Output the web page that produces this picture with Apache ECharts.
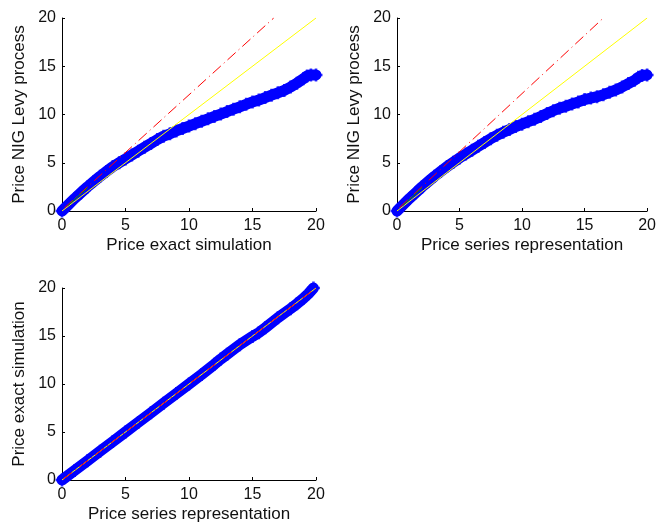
<!DOCTYPE html>
<html>
<head>
<meta charset="utf-8">
<script src="https://cdn.jsdelivr.net/npm/echarts@6/dist/echarts.min.js"></script>
<style>html,body{margin:0;padding:0;background:#fff}#c{width:659px;height:524px}</style>
</head>
<body>
<div id="c"></div>
<script>
// Top-left: NIG Levy process vs exact simulation (QQ)
const tlX = [0,0.5,1,1.5,2,2.5,3,3.5,4,4.5,5,5.5,6,6.5,7,7.5,8,8.5,9,9.5,10,10.5,11,11.5,12,12.5,13,13.5,14,14.5,15,15.5,16,16.5,17,17.5,18,18.5,19,19.3,19.6,20];
const tlY = [0,0.65,1.3,1.9,2.5,3.05,3.6,4.1,4.6,5.0,5.4,5.8,6.2,6.6,7.0,7.4,7.75,8.0,8.3,8.55,8.8,9.05,9.3,9.55,9.8,10.05,10.3,10.55,10.8,11.05,11.3,11.5,11.75,12.0,12.25,12.5,12.85,13.25,13.7,14.0,14.1,14.1];
// Top-right: NIG Levy process vs series representation
const trX = [0,0.5,1,1.5,2,2.5,3,3.5,4,4.5,5,5.5,6,6.5,7,7.5,8,8.5,9,9.5,10,10.5,11,11.5,12,12.5,13,13.5,14,14.5,15,15.5,16,16.5,17,17.5,18,18.5,19,19.3,19.6,20];
const trY = [0,0.65,1.3,1.9,2.5,3.05,3.6,4.1,4.6,5.05,5.5,5.9,6.3,6.7,7.1,7.5,7.85,8.15,8.45,8.75,9.0,9.25,9.5,9.8,10.1,10.4,10.65,10.85,11.1,11.3,11.55,11.7,11.85,12.05,12.3,12.55,12.85,13.2,13.55,13.85,14.05,14.1];
// Bottom: exact simulation vs series representation
const bX = [0,1,2,3,4,5,6,7,8,9,10,11,12,12.5,13,14,15,15.5,16,17,18,18.5,19,19.4,19.8];
const bY = [0,1,2,3,4,5,6,7,8,9,10,11,12.05,12.6,13.1,14.1,14.95,15.35,15.85,16.9,17.85,18.35,18.9,19.4,20];
// Reference lines
const identX = [0,20], identY = [0,20];
const tlRedX = [0.2,16.67], tlRedY = [0.34,20];
const trRedX = [0.2,16.5], trRedY = [0.36,20];
const bRedX = [0.1,20], bRedY = [0.1,20];
const greenX = [0.5,2.0], greenY = [0.6,2.4];
const ticks = [0,5,10,15,20];

const plus = 'path://M4,0H6V4H10V6H6V10H4V6H0V4H4Z';
const pair = (xs, ys) => xs.map((x, i) => [x, ys[i]]);
const font = 'Liberation Sans';

function axes(idx, name, isX) {
  return {
    type: 'value', gridIndex: idx, min: 0, max: 20, interval: 5,
    name: name, nameLocation: 'middle', nameGap: isX ? 26 : 34,
    nameTextStyle: { fontFamily: font, fontSize: 17, color: '#111' },
    axisLine: { show: true, onZero: false, lineStyle: { color: '#000', width: 1 } },
    axisTick: { show: true, inside: true, length: 3, lineStyle: { color: '#000' } },
    axisLabel: { fontFamily: font, fontSize: 16, color: '#111', margin: isX ? 7 : 6 },
    splitLine: { show: false }
  };
}
function qqSeries(idx, xs, ys, redX, redY, green) {
  const d = pair(xs, ys);
  const s = [
    { type: 'line', xAxisIndex: idx, yAxisIndex: idx, data: d, showSymbol: false, symbol: 'none',
      lineStyle: { color: '#0000ff', width: 11, cap: 'round', join: 'round' }, silent: true, animation: false },
    { type: 'scatter', xAxisIndex: idx, yAxisIndex: idx, data: d, symbol: plus, symbolSize: 13,
      itemStyle: { color: '#0000ff' }, silent: true, animation: false },
    { type: 'line', xAxisIndex: idx, yAxisIndex: idx, data: pair(identX, identY), symbol: 'none',
      lineStyle: { color: '#ffff00', width: 1 }, animation: false },
    { type: 'line', xAxisIndex: idx, yAxisIndex: idx, data: pair(redX, redY), symbol: 'none',
      lineStyle: { color: '#ff0000', width: 1, type: [11, 4, 1, 4] }, animation: false }
  ];
  if (green) s.push({ type: 'line', xAxisIndex: idx, yAxisIndex: idx, data: pair(greenX, greenY), symbol: 'none',
      lineStyle: { color: '#00a000', width: 1 }, animation: false });
  return s;
}

const chart = echarts.init(document.getElementById('c'));
chart.setOption({
  animation: false,
  backgroundColor: '#fff',
  grid: [
    { left: 62, top: 18, width: 254, height: 193 },
    { left: 397, top: 18, width: 253, height: 193 },
    { left: 62, top: 288, width: 254, height: 193 }
  ],
  xAxis: [axes(0, 'Price exact simulation', true), axes(1, 'Price series representation', true), axes(2, 'Price series representation', true)],
  yAxis: [axes(0, 'Price NIG Levy process', false), axes(1, 'Price NIG Levy process', false), axes(2, 'Price exact simulation', false)],
  series: [].concat(
    qqSeries(0, tlX, tlY, tlRedX, tlRedY, true),
    qqSeries(1, trX, trY, trRedX, trRedY, true),
    qqSeries(2, bX, bY, bRedX, bRedY, false)
  )
});
</script>
</body>
</html>
